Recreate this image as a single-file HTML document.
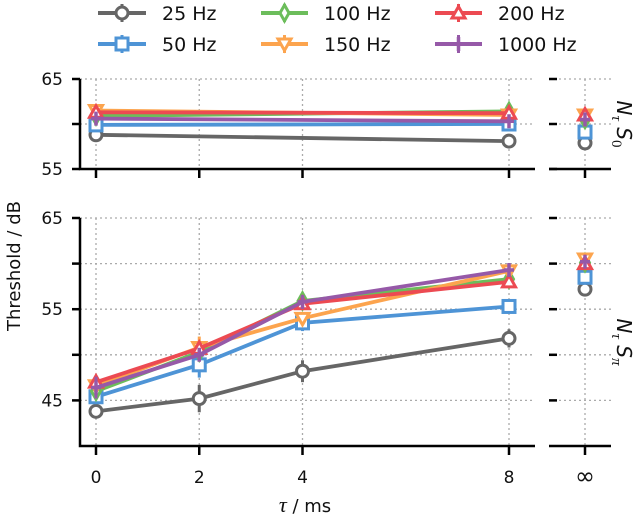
<!DOCTYPE html>
<html><head><meta charset="utf-8"><style>
body{margin:0;background:#fff;}
svg{display:block;font-family:"DejaVu Sans","Liberation Sans",sans-serif;}
</style></head><body>
<svg id="c" width="640" height="519"></svg>
<script>
const xCats=[0,2,4,8];
const freqs=['25 Hz','50 Hz','100 Hz','150 Hz','200 Hz','1000 Hz'];
const colors=['#666666','#4e94d6','#6cbd5b','#fca44e','#ec4a52','#9659a8'];
const markers=['circle','square','diamond','tridown','triup','plus'];
const topVals=[[58.8,null,null,58.1],[59.9,null,null,60.0],[60.9,null,null,61.4],[61.5,null,null,61.0],[61.3,null,null,61.2],[60.6,null,null,60.3]];
const topInf=[57.9,59.1,60.5,61.0,61.0,60.5];
const botVals=[[43.8,45.2,48.2,51.8],[45.4,48.9,53.5,55.3],[46.0,50.3,55.9,58.3],[46.6,50.8,54.0,59.2],[47.0,50.7,55.6,58.0],[46.4,50.0,55.8,59.3]];
const botInf=[57.2,58.5,60.1,60.5,60.0,60.2];
const botErr=[[0,1.5,1.2,1.0],[0,1.4,0.9,0],[0,0,0,0],[0,1.2,0,0],[0,0,0,0],[1.2,0,0,0]];
const yTicksTop=[55,60,65];
const yTicksBot=[45,50,55,60,65];
const xTickLabels=['0','2','4','8'];

const svg=document.getElementById('c');const NS='http://www.w3.org/2000/svg';
function el(t,a,p){const e=document.createElementNS(NS,t);for(const k in a)e.setAttribute(k,a[k]);(p||svg).appendChild(e);return e;}
const xS=v=>96+v*(509-96)/8;const xInf=585;
const yTop=v=>169-(v-55)*9;const yBot=v=>446-(v-40)*(446-218)/25;
function marker(g,type,x,y,c){let m;
if(type==='circle')m=el('circle',{cx:x,cy:y,r:6,fill:'#fff',stroke:c,'stroke-width':3},g);
else if(type==='square')m=el('rect',{x:x-6,y:y-6,width:12,height:12,fill:'#fff',stroke:c,'stroke-width':3},g);
else if(type==='diamond')m=el('polygon',{points:`${x},${y-8} ${x+4.5},${y} ${x},${y+8} ${x-4.5},${y}`,fill:'#fff',stroke:c,'stroke-width':3},g);
else if(type==='tridown')m=el('polygon',{points:`${x-6.5},${y-5} ${x+6.5},${y-5} ${x},${y+6.5}`,fill:'#fff',stroke:c,'stroke-width':3},g);
else if(type==='triup')m=el('polygon',{points:`${x-6.5},${y+5} ${x+6.5},${y+5} ${x},${y-6.5}`,fill:'#fff',stroke:c,'stroke-width':3},g);
else m=el('path',{d:`M${x-5} ${y}H${x+5}M${x} ${y-7}V${y+7}`,stroke:c,'stroke-width':3.5,fill:'none'},g);
}
function panel(name,yF,yTicks,y0,y1,vals,inf,err){
const g=el('g',{});
yTicks.forEach(t=>{const y=yF(t);
el('line',{x1:80,x2:535,y1:y,y2:y,stroke:'#aaa','stroke-width':1.3,'stroke-dasharray':'2,3'},g);
el('line',{x1:549,x2:611,y1:y,y2:y,stroke:'#aaa','stroke-width':1.3,'stroke-dasharray':'2,3'},g);
el('line',{x1:72,x2:80,y1:y,y2:y,stroke:'#000','stroke-width':2.5},g);
el('line',{x1:549,x2:557,y1:y,y2:y,stroke:'#000','stroke-width':2.5},g);
if(t%10===5){const tx=el('text',{x:63,y:y+6,'text-anchor':'end','font-size':17,fill:'#111'},g);tx.textContent=t;}});
xCats.forEach(v=>{el('line',{x1:xS(v),x2:xS(v),y1:yF(y1),y2:y0,stroke:'#aaa','stroke-width':1.3,'stroke-dasharray':'2,3'},g);
el('line',{x1:xS(v),x2:xS(v),y1:y0,y2:y0+9,stroke:'#000','stroke-width':2.5},g);});
el('line',{x1:xInf,x2:xInf,y1:yF(y1),y2:y0,stroke:'#aaa','stroke-width':1.3,'stroke-dasharray':'2,3'},g);
el('line',{x1:xInf,x2:xInf,y1:y0,y2:y0+9,stroke:'#000','stroke-width':2.5},g);
el('path',{d:`M80 ${yF(y1)}V${y0}H535`,stroke:'#000','stroke-width':2.5,fill:'none'},g);
el('line',{x1:549,x2:611,y1:y0,y2:y0,stroke:'#000','stroke-width':2.5},g);
vals.forEach((s,i)=>{const pts=[];s.forEach((v,j)=>{if(v!==null)pts.push([xS(xCats[j]),yF(v),j]);});
const l=el('polyline',{points:pts.map(p=>p[0]+','+p[1]).join(' '),fill:'none',stroke:colors[i],'stroke-width':3.8},g);

pts.forEach(p=>{const e=err?err[i][p[2]]:0;if(e)el('line',{x1:p[0],x2:p[0],y1:yF(s[p[2]]-e),y2:yF(s[p[2]]+e),stroke:colors[i],'stroke-width':3},g);});
pts.forEach(p=>marker(g,markers[i],p[0],p[1],colors[i]));
marker(g,markers[i],xInf,yF(inf[i]),colors[i]);});}
panel('top-panel',yTop,yTicksTop,169,65,topVals,topInf,null);
panel('bottom-panel',yBot,yTicksBot,446,65,botVals,botInf,botErr);
xCats.forEach((v,i)=>{const t=el('text',{x:xS(v),y:483,'text-anchor':'middle','font-size':17,fill:'#111'});t.textContent=xTickLabels[i];});
const ti=el('text',{x:xInf,y:484,'text-anchor':'middle','font-size':24,fill:'#111'});ti.textContent='∞';
const xl=el('text',{x:305,y:512,'text-anchor':'middle','font-size':18,fill:'#111'});xl.innerHTML='<tspan font-style="italic" font-family="Liberation Serif" font-size="22">τ</tspan> / ms';
const yl=el('text',{x:0,y:0,transform:'translate(20,266) rotate(-90)','text-anchor':'middle','font-size':18,fill:'#111'});yl.textContent='Threshold / dB';
function rlab(y,sub,name){const t=el('text',{x:0,y:0,transform:`translate(617,${y}) rotate(90)`,'text-anchor':'middle','font-size':20,fill:'#111','font-style':'italic'});
t.innerHTML=`N<tspan font-size="15" dy="5" font-family="Liberation Serif">τ</tspan><tspan dy="-5"> S</tspan><tspan font-size="15" dy="5" font-style="${sub==='0'?'normal':'italic'}" font-family="Liberation Serif">${sub}</tspan>`;
}
rlab(124,'0','label-n-tau-s0');rlab(342,'π','label-n-tau-spi');
const lx=[[98,146,162],[261,308,324],[435,482,498]];
freqs.forEach((f,i)=>{const col=Math.floor(i/2),row=i%2;const y=row?44:13;
const g=el('g',{});
el('line',{x1:lx[col][0],x2:lx[col][1],y1:y,y2:y,stroke:colors[i],'stroke-width':4},g);
el('line',{x1:(lx[col][0]+lx[col][1])/2,x2:(lx[col][0]+lx[col][1])/2,y1:y-9,y2:y+9,stroke:colors[i],'stroke-width':3},g);
marker(g,markers[i],(lx[col][0]+lx[col][1])/2,y,colors[i]);
const t=el('text',{x:lx[col][2],y:y+7,'font-size':19,fill:'#111'},g);t.textContent=f;});
</script></body></html>
